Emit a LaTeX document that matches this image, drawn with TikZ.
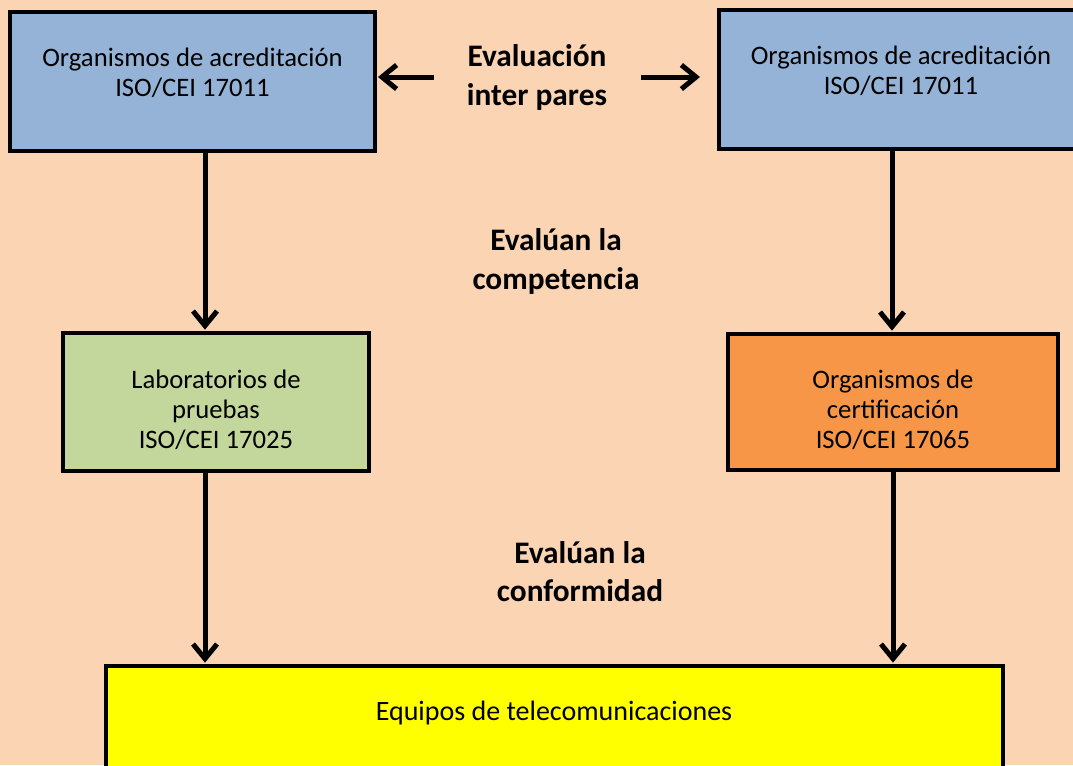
\documentclass[tikz,border=0pt]{standalone}
\usepackage{fontspec}
\setmainfont{Carlito}
\usetikzlibrary{arrows.meta}
\definecolor{bgpeach}{HTML}{FBD4B4}
\definecolor{boxblue}{HTML}{95B3D7}
\definecolor{boxgreen}{HTML}{C3D69B}
\definecolor{boxorange}{HTML}{F79646}
\definecolor{boxyellow}{HTML}{FFFF00}
\tikzset{
  box/.style={draw=black, line width=3pt, rectangle, inner sep=0pt},
  boxtext/.style={align=center, font=\fontsize{20}{22.5}\selectfont, inner sep=0pt},
  lbl/.style={align=center, font=\fontsize{23.5}{29}\selectfont\bfseries, inner sep=0pt},
  conn/.style={line width=3.75pt, -{Straight Barb[length=11pt, width=18pt]}},
}
\begin{document}
\begin{tikzpicture}[x=0.75pt, y=-0.75pt]
\useasboundingbox (0,0) rectangle (1073,765);
\clip (0,0) rectangle (1073,765);
\fill[bgpeach] (0,0) rectangle (1073,765);
% boxes
\node[box, fill=boxblue, minimum width=365*0.75pt, minimum height=139*0.75pt] (a1) at (192.5,81.5) {};
\node[boxtext] (t1) at (192.5,72.5) {Organismos de acreditación\\ISO/CEI 17011};
\node[box, fill=boxblue, minimum width=365*0.75pt, minimum height=139*0.75pt] (a2) at (901.5,79.5) {};
\node[boxtext] (t2) at (901,70.5) {Organismos de acreditación\\ISO/CEI 17011};
\node[box, fill=boxgreen, minimum width=306*0.75pt, minimum height=138*0.75pt] (lab) at (216,402) {};
\node[boxtext] (t3) at (216,410) {Laboratorios de\\pruebas\\ISO/CEI 17025};
\node[box, fill=boxorange, minimum width=330*0.75pt, minimum height=136*0.75pt] (cert) at (893,402) {};
\node[boxtext] (t4) at (893,410) {Organismos de\\certificación\\ISO/CEI 17065};
\node[box, fill=boxyellow, minimum width=897*0.75pt, minimum height=200*0.75pt, anchor=north] (eq) at (554.5,664) {};
\node[boxtext, font=\fontsize{21}{24}\selectfont] (t5) at (554,713) {Equipos de telecomunicaciones};
% labels
\node[lbl] (l1) at (537,77.5) {Evaluación\\inter pares};
\node[lbl] (l2) at (556,261.5) {Evalúan la\\competencia};
\node[lbl] (l3) at (580,571.5) {Evalúan la\\conformidad};
% column coordinates
\coordinate (cL) at (205,0);
\coordinate (cR) at (892,0);
\coordinate (cR2) at (893,0);
\coordinate (hl0) at (434,77);
\coordinate (hl1) at (378,77);
\coordinate (hr0) at (641,77);
\coordinate (hr1) at (700,77);
% connectors
\draw[conn] (a1.south -| cL) -- ([yshift=1pt]lab.north -| cL);
\draw[conn] (a2.south -| cR) -- ([yshift=1pt]cert.north -| cR);
\draw[conn] (lab.south -| cL) -- ([yshift=1pt]eq.north -| cL);
\draw[conn] (cert.south -| cR2) -- ([yshift=1pt]eq.north -| cR2);
\draw[conn] (hl0) -- (hl1);
\draw[conn] (hr0) -- (hr1);
\end{tikzpicture}
\end{document}
